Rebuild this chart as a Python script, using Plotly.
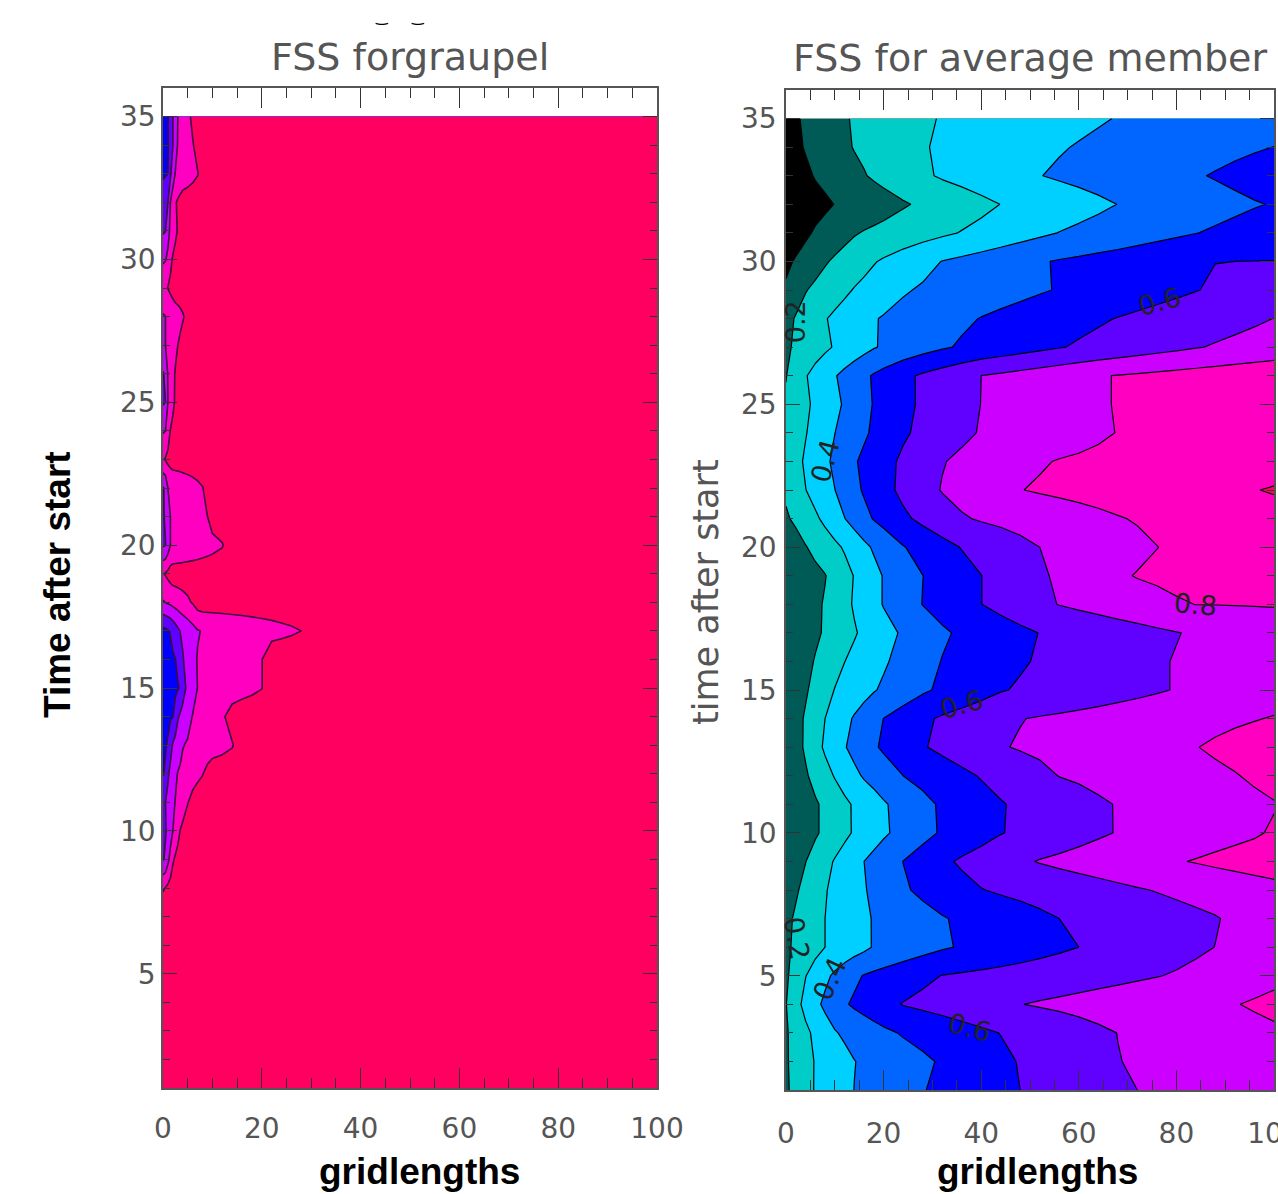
import numpy as np
import plotly.graph_objects as go

times = list(range(35, 0, -1))

# right panel: x gridlengths and FSS (in thousandths), one row per time, 35 down to 1
x_member = [0,2,4,6,8,10,12,14,16,18,20,24,28,32,36,40,44,48,52,56,60,64,68,72,76,80,84,88,92,96,100]
fss_member = [
[49,89,114,134,153,173,193,207,219,230,242,265,288,305,316,327,338,349,360,371,382,393,403,410,417,424,431,439,446,453,460],
[36,76,108,127,147,166,186,204,216,229,242,268,294,311,324,338,352,366,380,394,405,415,424,434,443,453,462,472,481,491,501],
[10,44,78,107,124,142,160,178,195,211,226,256,286,310,327,345,363,381,398,411,422,434,446,458,469,481,493,506,520,535,550],
[10,29,47,66,84,102,115,127,140,153,166,191,214,236,258,279,301,317,334,351,368,384,401,414,428,441,454,468,481,494,505],
[10,47,83,111,131,151,172,192,206,216,225,245,264,284,304,323,343,363,383,402,416,430,443,457,471,485,498,511,524,537,550],
[77,111,138,164,191,213,234,254,274,294,311,342,373,402,420,438,456,474,492,507,518,530,541,553,565,576,588,599,600,601,601],
[115,155,195,219,241,263,284,305,322,339,356,391,410,424,437,451,465,478,492,505,518,532,545,558,571,584,597,611,624,637,650],
[170,207,237,266,295,316,336,355,375,394,407,427,446,466,485,503,518,532,546,561,575,589,603,615,627,639,652,664,676,688,701],
[184,214,237,261,284,307,329,350,372,394,410,436,463,489,510,527,544,561,578,595,610,624,638,652,667,681,695,707,718,729,740],
[197,246,294,329,361,394,424,453,482,509,532,577,614,642,671,700,715,731,746,761,777,792,804,812,821,829,837,845,854,862,870],
[210,247,283,317,348,378,410,442,475,505,529,576,614,643,673,701,716,731,747,762,777,792,804,812,821,829,837,845,854,862,870],
[215,255,295,330,365,399,429,458,487,514,538,587,622,652,682,706,720,734,748,762,775,789,802,811,819,828,836,845,853,861,870],
[233,273,312,347,382,418,455,491,519,545,570,616,655,695,717,736,755,774,793,804,810,816,822,828,834,840,846,852,858,864,870],
[218,258,298,332,366,399,437,475,511,541,570,622,666,705,729,752,775,798,808,816,824,832,840,849,857,865,873,881,890,898,905],
[186,221,253,285,320,359,398,435,472,506,531,582,622,657,691,709,721,734,746,758,770,782,795,806,815,825,835,845,855,865,875],
[115,155,195,225,253,280,310,345,379,411,439,495,533,570,604,628,652,676,700,716,733,749,766,782,799,811,823,835,846,858,870],
[110,132,153,175,196,231,267,304,338,373,405,452,499,532,566,599,629,658,687,714,739,764,789,804,812,820,828,836,844,852,860],
[110,134,158,182,208,242,276,309,342,374,405,454,502,534,567,599,626,653,679,703,718,733,748,763,778,792,801,802,803,804,805],
[110,135,159,184,210,237,264,292,317,342,367,412,449,487,514,536,558,580,602,615,629,642,656,669,683,697,709,722,735,747,760],
[110,142,174,206,238,269,299,322,342,365,389,429,467,503,525,547,569,591,608,622,636,650,664,678,692,704,715,727,738,749,760],
[110,149,189,228,267,303,326,349,371,394,413,450,486,516,542,568,594,609,621,633,645,657,669,680,692,704,715,726,738,749,760],
[129,169,210,255,300,337,374,409,439,470,501,541,582,612,633,654,675,697,707,715,723,731,739,747,755,763,772,780,788,796,805],
[129,169,212,265,314,354,394,427,458,489,513,553,593,620,645,669,694,707,717,728,738,748,758,768,778,788,798,811,824,837,850],
[110,149,189,228,267,306,342,379,410,432,455,500,526,553,580,606,630,655,679,702,712,722,733,743,754,764,775,785,796,811,830],
[110,136,163,189,218,249,281,310,337,363,390,434,476,512,539,567,594,615,633,652,670,689,704,716,727,738,750,761,772,784,795],
[110,136,163,189,218,249,280,309,335,360,386,430,472,510,539,567,596,616,634,652,670,688,704,716,729,741,753,766,778,790,810],
[118,158,198,235,272,307,338,369,400,426,451,501,541,581,613,637,662,686,705,718,731,743,756,768,781,794,805,817,828,839,850],
[149,189,225,260,294,320,345,369,394,417,441,488,519,545,571,597,611,622,634,646,657,669,681,693,704,715,726,737,748,759,770],
[177,212,242,271,300,322,344,365,387,405,418,443,469,494,513,531,548,565,582,600,612,624,636,648,659,671,683,695,714,737,760],
[184,216,244,272,300,320,340,360,380,407,418,442,465,489,508,523,539,554,570,585,600,614,629,643,658,672,686,701,720,740,760],
[186,239,297,339,379,416,449,481,505,518,531,556,582,602,611,620,628,637,645,654,662,671,679,688,697,707,720,732,745,757,770],
[197,268,328,376,419,454,490,514,533,552,571,604,620,635,651,666,682,698,708,716,725,734,743,752,761,770,779,787,796,811,830],
[190,234,279,320,357,393,414,430,447,464,481,508,527,546,565,584,602,619,635,652,668,685,701,711,721,730,740,750,760,770,780],
[190,230,269,305,328,352,375,398,411,424,436,460,485,509,534,558,582,605,624,642,661,680,698,707,714,722,730,737,745,752,760],
[186,228,269,306,330,355,379,401,415,428,442,469,496,517,538,559,580,600,617,634,651,667,684,700,709,717,726,734,743,751,760],
]

# left panel: rows hold the readings up to the point where FSS settles at its plateau
x_graupel = [0,.5,1,1.5,2,2.5,3,3.5,4,5,6,7,8,9,10,12,14,16,18,20,22,24,26,28,30,32,100]
plateau = 950
fss_graupel_rows = [
[576,586,596,638,700,750,800,820,840,880,917],
[576,586,596,638,700,763,806,821,835,865,894,927],
[580,590,600,683,757,804,814,824,835,855,876,896,927],
[680,690,700,800,845,891,913,930,947],
[688,698,767,819,850,881,907,923,940],
[784,794,822,878,910,927,943],
[882,892,903,920,937],
[790,800,813,826,839,853,866,879,892,923],
[790,800,820,840,860,880,900,917,933],
[692,720,807,843,879,907,923,940],
[690,700,800,842,883,910,927,943],
[790,800,856,903,920,937],
[894,907,923,940],
[692,717,800,807,814,821,828,835,842,856,869,883,897,927],
[692,709,755,800,807,813,820,827,833,847,860,873,887,900,933],
[688,698,744,800,805,809,814,818,823,832,841,850,859,868,877,895],
[894,907,923,940],
[792,802,811,820,830,839,848,857,867,885,907,940],
[572,582,592,605,630,655,680,703,716,742,768,795,804,809,813,823,833,842,852,862,871,881,890,900],
[548,558,568,578,588,598,627,660,693,738,779,804,811,818,825,840,854,869,883,898],
[532,542,552,562,572,582,592,610,660,725,767,801,809,816,824,839,853,868,883,898],
[558,568,578,588,598,640,690,715,733,770,803,817,831,845,859,887,937],
[582,592,611,667,709,730,752,774,796,809,818,828,837,847,856,875,894,947],
[592,614,686,724,753,782,804,813,822,841,859,878,896,927],
[690,700,726,753,779,804,822,841,859,896,930],
[684,694,717,758,800,836,871,903,920],
[692,712,775,833,889,913,930,947],
[892,903,920,937],
[],[],[],[],[],[],[],
]
fss_graupel = [r + [plateau]*(len(x_graupel)-len(r)) for r in fss_graupel_rows]

colors = ['#000000','#005a55','#00cdc8','#00d0ff','#0066ff','#0000ff','#6000ff','#cc00ff','#ff00c0','#ff0060']
cs = []
for i, c in enumerate(colors):
    cs += [[i/10, c], [(i+1)/10, c]]

W, H = 1278, 1194
def dx(a, b): return [a/W, b/W]
def dy(a, b): return [1-b/H, 1-a/H]
fig = go.Figure()
def cont(x, z, xa, ya, lc, lw):
    fig.add_trace(go.Contour(x=x, y=times, z=(np.array(z)/1000).tolist(), xaxis=xa, yaxis=ya, zmin=0, zmax=1, colorscale=cs,
        showscale=False, autocontour=False,
        contours=dict(start=.1, end=.9, size=.1, coloring='fill', showlines=True),
        line=dict(color=lc, width=lw, smoothing=0), hoverinfo='skip'))
cont(x_graupel, fss_graupel, 'x', 'y', '#3a0a40', 1.6)
cont(x_member, fss_member, 'x2', 'y2', '#000', 1.2)

tickf = dict(family='DejaVu Sans', size=28, color='#555')
def xax(dom, y, so):
    return dict(domain=dx(*dom), anchor=y, range=[0,100], tick0=0, dtick=20, ticks='inside', ticklen=20, tickcolor='#333', tickwidth=1,
        mirror='allticks', showline=True, linecolor='#555', linewidth=1.5, showgrid=False, zeroline=False, tickfont=tickf,
        ticklabelstandoff=so, automargin=False, layer='above traces', ticklabeloverflow='allow',
        minor=dict(dtick=5, ticks='inside', ticklen=10, tickcolor='#333', tickwidth=1, showgrid=False))
def yax(dom, x, so):
    return dict(domain=dy(*dom), anchor=x, range=[1,36], tick0=0, dtick=5, ticks='inside', ticklen=14, tickcolor='#333', tickwidth=1,
        mirror='allticks', showline=True, linecolor='#555', linewidth=1.5, showgrid=False, zeroline=False, tickfont=tickf,
        ticklabelstandoff=so, automargin=False, layer='above traces',
        minor=dict(dtick=1, ticks='inside', ticklen=7, tickcolor='#333', tickwidth=1, showgrid=False))
fig.update_layout(width=W, height=H, margin=dict(l=0, r=0, t=0, b=0), paper_bgcolor='white', plot_bgcolor='white', showlegend=False,
    xaxis=xax((163,657),'y',15), yaxis=yax((88,1088),'x',0), xaxis2=xax((786,1274),'y2',18), yaxis2=yax((90,1090),'x2',2))

def note(t, x, y, size, color='#555', family='DejaVu Sans', angle=0, bold=False):
    fig.add_annotation(text=f'<b>{t}</b>' if bold else t, x=x/W, y=1-y/H, xref='paper', yref='paper', showarrow=False, textangle=angle,
        font=dict(family=family, size=size, color=color), xanchor='center', yanchor='middle')
note('FSS forgraupel', 410, 57, 38)
note('FSS for average member', 1030, 58, 38)
note('\u203f     \u203f', 400, 17, 14, '#000', 'DejaVu Sans', bold=True)
note('gridlengths', 419, 1171, 37, '#000', 'Liberation Sans', bold=True)
note('gridlengths', 1037, 1171, 37, '#000', 'Liberation Sans', bold=True)
note('Time after start', 57, 585, 37, '#000', 'Liberation Sans', -90, True)
note('time after start', 706, 592, 35, '#555', 'DejaVu Sans', -90)

label_text = ['0.6','0.4','0.6','0.8','0.2','0.2','0.4','0.6']
label_x = [76.6,8,36,84,2,2.2,9,37.7]
label_t = [28.6,23,14.5,18,27.9,6.3,4.9,3.2]
label_angle = [-15,-75,-15,5,-90,80,-65,15]
for t, x, y, a in zip(label_text, label_x, label_t, label_angle):
    fig.add_annotation(text=t, x=x, y=y, xref='x2', yref='y2', showarrow=False, textangle=a,
        font=dict(family='DejaVu Sans', size=27, color='#222'))

fig.write_html('out.html', config={'displayModeBar': False},
    post_script="document.body.style.margin='0';document.body.style.overflow='hidden';")
